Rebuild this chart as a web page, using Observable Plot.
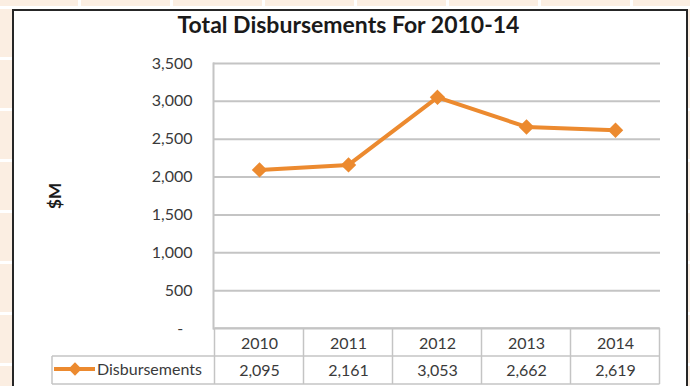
<!DOCTYPE html>
<html><head><meta charset="utf-8">
<script src="https://cdn.jsdelivr.net/npm/d3@7"></script>
<script src="https://cdn.jsdelivr.net/npm/@observablehq/plot@0.6"></script>
<style>
html,body{margin:0;padding:0}
body{width:690px;height:386px;overflow:hidden;position:relative;background-color:#fbeee2;
background-image:linear-gradient(90deg,#fff 3px,transparent 3px),linear-gradient(#fff 3px,transparent 3px);
background-size:92px 51px;background-position:78px 6px;font-family:Lato,sans-serif}
#box{position:absolute;left:12px;top:9px;width:676px;height:400px;box-sizing:border-box;border:2.5px solid #262626;border-bottom:none;background:#fff}
#title{position:absolute;left:0;width:697px;top:10px;line-height:28px;text-align:center;font-weight:bold;font-size:23px;color:#1a1a1a;font-family:Lato,sans-serif}
#chart{position:absolute;left:0;top:0}
</style></head>
<body>
<div id="box"></div>
<div id="title"></div>
<div id="chart"></div>
<script>
const title = "Total Disbursements For 2010-14";
const years = ["2010","2011","2012","2013","2014"];
const disbursements = [2095,2161,3053,2662,2619];
const yTicks = [0,500,1000,1500,2000,2500,3000,3500];
const seriesName = "Disbursements";
const yLabel = "$M";

document.getElementById("title").textContent = title;
const data = years.map((y,i)=>({year:y, value:disbursements[i]}));
const orange = "#ec8a2f";
const gridColor = "#c4c4c4";
const textColor = "#3a3a3a";
const fmt = d3.format(",");

const plot = Plot.plot({
  width:690, height:386, marginLeft:213, marginRight:30, marginTop:63, marginBottom:58,
  style:{background:"transparent", fontFamily:"Lato, sans-serif", fontSize:"16px", color:textColor, overflow:"visible"},
  x:{type:"point", domain:years, padding:0.5, axis:null},
  y:{domain:[0,3500], axis:null},
  marks:[
    Plot.gridY(yTicks, {stroke:gridColor, strokeOpacity:1, strokeWidth:2}),
    Plot.axisY(yTicks, {tickSize:0, tickPadding:21, tickFormat:d => d===0 ? "-\u2007" : fmt(d), fontSize:16, label:null}),
    Plot.frame({anchor:"left", stroke:gridColor, strokeWidth:2}),
    Plot.line(data, {x:"year", y:"value", stroke:orange, strokeWidth:4}),
    Plot.dot(data, {x:"year", y:"value", symbol:"diamond2", r:6, fill:orange, stroke:orange}),
    Plot.text([yLabel], {frameAnchor:"left", text:d=>d, rotate:-90, dx:-158, textAnchor:"middle", fontWeight:"bold", fontSize:17, fill:"#1a1a1a"}),
    Plot.text(data, {x:"year", y:0, text:"year", dy:15, fontSize:16, fill:textColor}),
    Plot.text(data, {x:"year", y:0, text:d=>fmt(d.value), dy:42, fontSize:16, fill:textColor})
  ]
});
document.getElementById("chart").appendChild(plot);

// data table grid drawn from the plot's scales
const xs = plot.scale("x"), ys = plot.scale("y");
const step = xs.apply(years[1]) - xs.apply(years[0]);
const left = xs.apply(years[0]) - step/2;
const right = xs.apply(years[years.length-1]) + step/2;
const y0 = ys.apply(0);
const rowH = 28;
const legendLeft = 52;
const svg = d3.select(plot);
const g = svg.insert("g", ":first-child").attr("stroke", gridColor).attr("stroke-width", 1.5).attr("fill","none");
const hl = [[left, y0],[legendLeft, y0+rowH],[legendLeft, y0+2*rowH]];
hl.forEach(([x1,y])=>g.append("line").attr("x1",x1).attr("x2",right).attr("y1",y).attr("y2",y));
years.forEach((yr,i)=>{
  const xb = xs.apply(yr) - step/2;
  g.append("line").attr("x1",xb).attr("x2",xb).attr("y1",y0).attr("y2",y0+2*rowH);
});
g.append("line").attr("x1",right).attr("x2",right).attr("y1",y0).attr("y2",y0+2*rowH);
g.append("line").attr("x1",legendLeft).attr("x2",legendLeft).attr("y1",y0+rowH).attr("y2",y0+2*rowH);

// legend key in table
const ly = y0 + rowH*1.5;
const lg = svg.append("g");
lg.append("line").attr("x1",legendLeft+2).attr("x2",legendLeft+43).attr("y1",ly-1).attr("y2",ly-1).attr("stroke",orange).attr("stroke-width",4);
lg.append("path").attr("d", d3.symbol(d3.symbolDiamond2, 113)()).attr("transform",`translate(${legendLeft+23},${ly-1})`).attr("fill",orange);
lg.append("text").attr("x",legendLeft+45).attr("y",ly).attr("dy","0.32em").attr("text-anchor","start").attr("fill",textColor).attr("font-size",16).text(seriesName);
</script>
</body></html>
